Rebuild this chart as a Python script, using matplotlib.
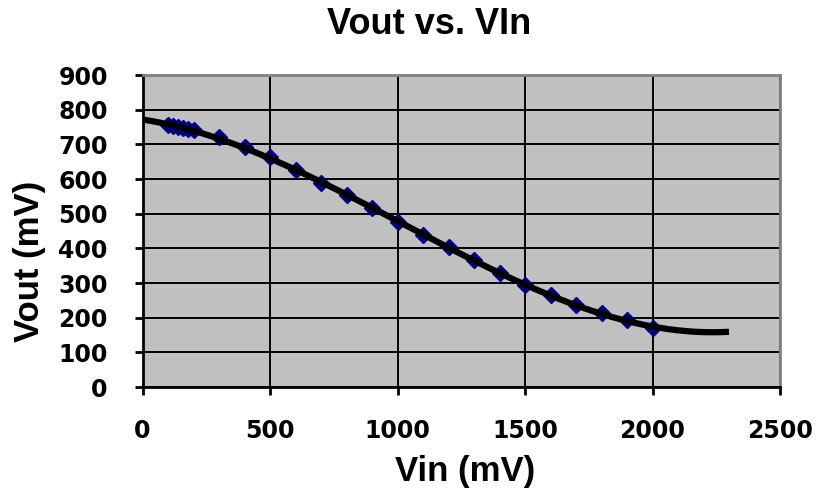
import numpy as np
import matplotlib
matplotlib.use("Agg")
import matplotlib.pyplot as plt

vin = [100, 120, 140, 160, 180, 200, 300, 400, 500, 600, 700, 800, 900, 1000,
       1100, 1200, 1300, 1400, 1500, 1600, 1700, 1800, 1900, 2000]
vout = [755, 752, 749, 747, 744, 741, 721, 692, 663, 626, 588, 554, 516, 476,
        438, 404, 366, 329, 294, 265, 237, 213, 193, 170]
x_ticks = [0, 500, 1000, 1500, 2000, 2500]
y_ticks = [0, 100, 200, 300, 400, 500, 600, 700, 800, 900]
trend_range = [0, 2300]
trend_order = 3

plt.rcParams['font.family'] = ['Liberation Sans', 'DejaVu Sans']

W, H = 817, 494
fig = plt.figure(figsize=(W / 100, H / 100), dpi=100)
ax = fig.add_axes([142.5 / W, 1 - 387 / H, (780 - 142.5) / W, (387 - 75) / H])
ax.set_facecolor('#C0C0C0')

coef = np.polyfit(vin, vout, trend_order)
xt = np.linspace(trend_range[0], trend_range[1], 400)
ax.plot(vin, vout, linestyle='none', marker='D', markersize=8,
        color='#000080', zorder=3)
ax.plot(xt, np.polyval(coef, xt), color='black', linewidth=4.5, zorder=4,
        solid_capstyle='butt')

ax.set_xlim(0, 2500)
ax.set_ylim(0, 900)
ax.set_xticks(x_ticks)
ax.set_yticks(y_ticks)
ax.grid(True, color='black', linewidth=1.4)
ax.set_axisbelow(True)

for s in ['top', 'right']:
    ax.spines[s].set_color('#808080')
    ax.spines[s].set_linewidth(2)
for s in ['left', 'bottom']:
    ax.spines[s].set_color('black')
    ax.spines[s].set_linewidth(2)

ax.tick_params(axis='both', direction='out', length=6, width=2, color='black',
               labelsize=17)
ax.tick_params(axis='x', pad=17)
ax.tick_params(axis='y', pad=19)
for lab in ax.get_xticklabels() + ax.get_yticklabels():
    lab.set_fontweight('bold')
    lab.set_family('DejaVu Sans')

fig.text(429 / W, 1 - 25 / H, 'Vout vs. VIn', fontsize=26, fontweight='bold',
         ha='center', va='center')
fig.text(465 / W, 1 - 471 / H, 'Vin (mV)', fontsize=25, fontweight='bold',
         ha='center', va='center')
fig.text(29 / W, 1 - 261 / H, 'Vout (mV)', fontsize=25, fontweight='bold',
         ha='center', va='center', rotation=90)

fig.savefig('out.png', dpi=100)
